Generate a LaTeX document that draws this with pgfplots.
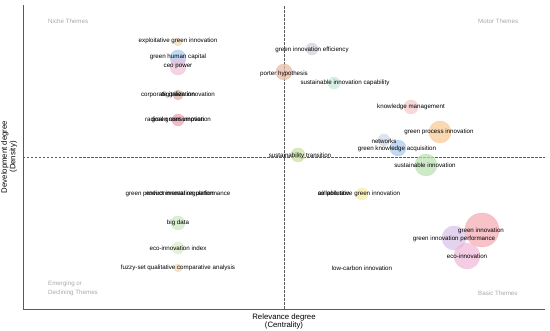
\documentclass[border=0pt]{standalone}
\usepackage{fontspec}
\setmainfont{Liberation Sans}
\usepackage{pgfplots}
\usepackage{pgfplotstable}
\pgfplotsset{compat=1.18}

\definecolor{cPeach}{HTML}{F5D5B0}
\definecolor{cBlue}{HTML}{A8C8EE}
\definecolor{cPink}{HTML}{F0C0D8}
\definecolor{cBrown}{HTML}{D8B0A8}
\definecolor{cRose}{HTML}{E8A0B0}
\definecolor{cGray}{HTML}{D0D0D8}
\definecolor{cSalmon}{HTML}{E8B8A0}
\definecolor{cMint}{HTML}{C8E8D8}
\definecolor{cLPink}{HTML}{F5C8C8}
\definecolor{cOrange}{HTML}{F8C890}
\definecolor{cSteel}{HTML}{D0D8E8}
\definecolor{cLime}{HTML}{C8E0A0}
\definecolor{cGreen}{HTML}{B8E0B0}
\definecolor{cLGreen}{HTML}{C8E8C0}
\definecolor{cPGreen}{HTML}{D8ECC8}
\definecolor{cYellow}{HTML}{F8ECA0}
\definecolor{cRed}{HTML}{F4A8B0}
\definecolor{cPurple}{HTML}{D8C0E8}
\definecolor{cMagenta}{HTML}{F0B8D8}
\definecolor{axisgray}{HTML}{5A5A5A}
\definecolor{quadgray}{HTML}{A8A8A8}

\pgfplotstableread[col sep=comma]{
x,y,r,col
-106,115,4,cPeach
-106,99,8,cBlue
-106,90,8,cPink
-106,62,5,cBrown
-106,37,6,cRose
28,108,6,cGray
0,85,8,cSalmon
50,74,6,cMint
127,50,7,cLPink
156,25,11,cOrange
100,17,6,cSteel
114,9,8,cBlue
14,2,7,cLime
142,-8,11,cGreen
-106,-66,7,cLGreen
-106,-91,6,cPGreen
-106,-111,4,cPeach
78,-37,6,cYellow
198,-73,17,cRed
170,-81,12,cPurple
183,-99,13,cMagenta
}\bubbles

\pgfplotstableread[col sep=comma]{
x,y,label
-106,116,exploitative green innovation
-106,100,green human capital
-106,91,ceo power
-106,62,corporate green innovation
-106,62,digitalization
-106,37,radical green innovation
-106,37,green consumption
28,107,green innovation efficiency
0,83,porter hypothesis
61,74,sustainable innovation capability
127,50,knowledge management
155,25,green process innovation
100,16,networks
113,8,green knowledge acquisition
16,1,sustainability transition
141,-8,sustainable innovation
-106,-37,green product innovation performance
-104,-37,environmental regulation
75,-37,collaborative green innovation
50,-37,air pollution
-106,-66,big data
-106,-91,eco-innovation index
-106,-111,fuzzy-set qualitative comparative analysis
197,-74,green innovation
170,-82,green innovation performance
183,-99,eco-innovation
78,-111,low-carbon innovation
}\labels

\tikzset{bub/.style={mark=*, draw=#1, fill=#1}}

\begin{document}
\begin{tikzpicture}
\begin{axis}[
  at={(0pt,0pt)}, anchor=south west,
  scale only axis, width=522pt, height=304pt,
  xmin=-261, xmax=261, ymin=-152, ymax=152,
  axis x line=bottom, axis y line=left,
  axis line style={-, draw=axisgray, line width=0.8pt},
  xtick=\empty, ytick=\empty,
  clip=false,
  xlabel={Relevance degree\\(Centrality)},
  ylabel={Development degree\\(Density)},
  xlabel style={at={(axis description cs:0.5,0)}, anchor=north, yshift=-4.5pt, inner sep=0pt, align=center, font=\fontsize{7.8}{8.6}\selectfont},
  ylabel style={at={(axis description cs:-0.011,0.5)}, anchor=south, inner sep=0pt, align=center, font=\fontsize{7.8}{8.6}\selectfont},
]
\addplot[dashed, dash pattern=on 2.5pt off 1.5pt, draw=axisgray, line width=0.6pt] coordinates {(0,-152) (0,152)};
\addplot[dashed, dash pattern=on 2.5pt off 1.5pt, draw=axisgray, line width=0.6pt] coordinates {(-261,0) (261,0)};

\addplot[scatter, only marks, fill opacity=0.7, draw opacity=0.7,
  scatter src=explicit symbolic,
  scatter/classes={
    cPeach={bub=cPeach}, cBlue={bub=cBlue}, cPink={bub=cPink}, cBrown={bub=cBrown},
    cRose={bub=cRose}, cGray={bub=cGray}, cSalmon={bub=cSalmon}, cMint={bub=cMint},
    cLPink={bub=cLPink}, cOrange={bub=cOrange}, cSteel={bub=cSteel}, cLime={bub=cLime},
    cGreen={bub=cGreen}, cLGreen={bub=cLGreen}, cPGreen={bub=cPGreen}, cYellow={bub=cYellow},
    cRed={bub=cRed}, cPurple={bub=cPurple}, cMagenta={bub=cMagenta}},
  visualization depends on={\thisrow{r}\as\rad},
  scatter/@pre marker code/.append style={/tikz/mark size=\rad}
] table[x=x, y=y, meta=col]{\bubbles};

\addplot[only marks, mark=none, point meta=explicit symbolic,
  nodes near coords,
  nodes near coords style={anchor=center, inner sep=0pt, text=black, font=\fontsize{6.2}{7}\selectfont}
] table[x=x, y=y, meta=label]{\labels};

\addplot[only marks, mark=none, point meta=explicit symbolic,
  nodes near coords,
  nodes near coords style={anchor=west, inner sep=0pt, text=quadgray, align=left, font=\fontsize{6.2}{7.5}\selectfont}
] table[x=x, y=y, meta=label, col sep=comma]{
x,y,label
-236,136,Niche Themes
-236,-127,Emerging or
-236,-136,Declining Themes
194,136,Motor Themes
194,-136,Basic Themes
};
\end{axis}
\pgfresetboundingbox
\path[use as bounding box] (-23pt,-22pt) rectangle (527pt,309pt);
\end{tikzpicture}
\end{document}
